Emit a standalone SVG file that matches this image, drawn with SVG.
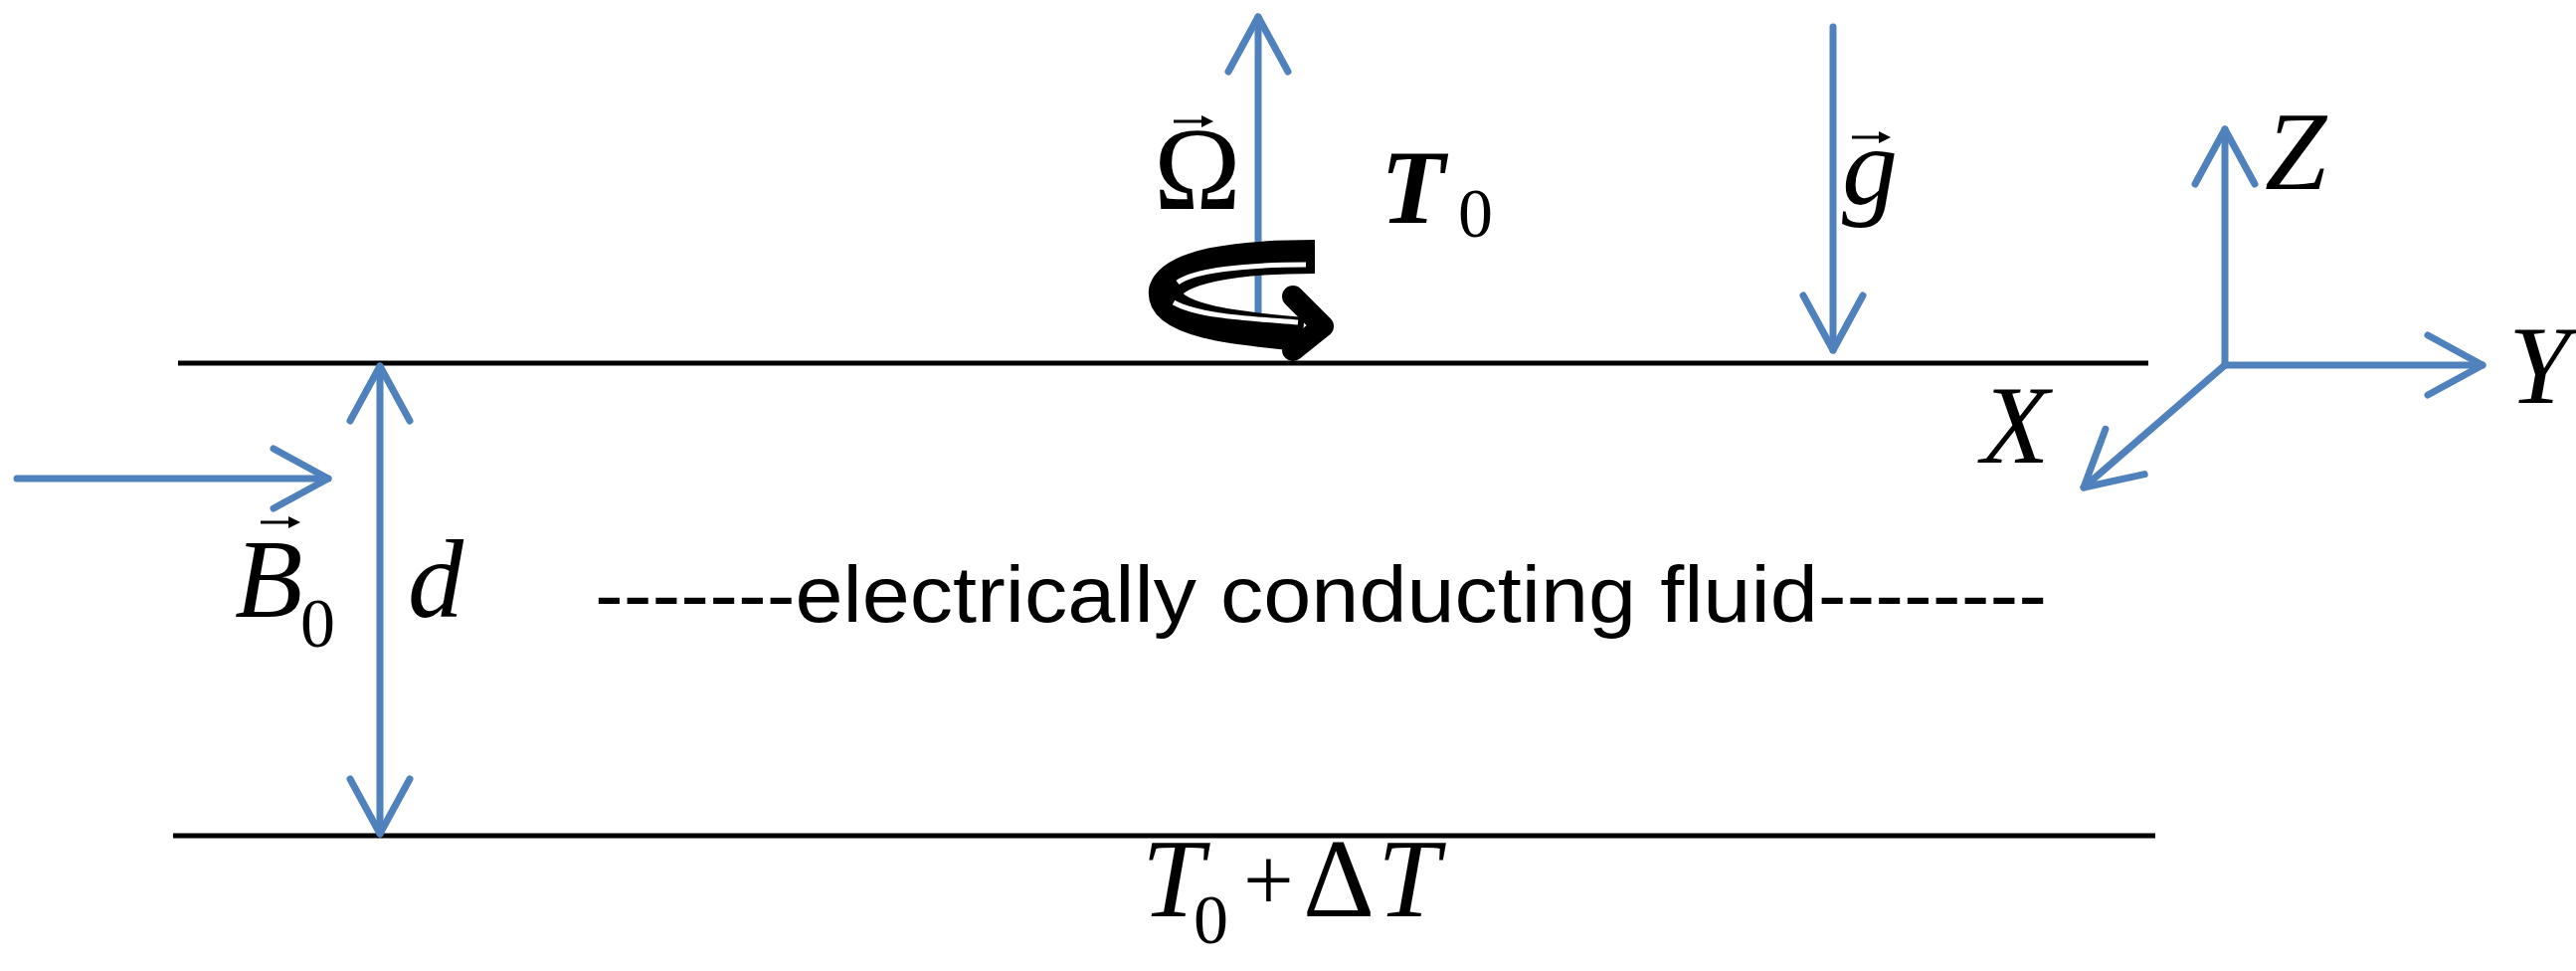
<svg xmlns="http://www.w3.org/2000/svg" width="2590" height="976" viewBox="0 0 2590 976">
<style>
.b{stroke:#4F81BD;stroke-width:7;fill:none;stroke-linecap:round;stroke-linejoin:round}
.k{stroke:#000;stroke-width:5;fill:none}
.m{font-family:"Liberation Serif",serif;font-style:italic;font-size:112px;fill:#000}
.s{font-family:"Liberation Serif",serif;font-size:70px;fill:#000}
.v{stroke:#000;stroke-width:3;fill:none}
</style>
<defs>
<marker id="ah" viewBox="-70 -40 80 80" markerWidth="80" markerHeight="80" refX="0" refY="0" orient="auto-start-reverse" markerUnits="userSpaceOnUse">
<path d="M-55,-30 L0,0 L-55,30" stroke="#4F81BD" stroke-width="7" fill="none" stroke-linecap="round" stroke-linejoin="round"/>
</marker>
</defs>
<g id="plates">
<line class="k" x1="179" y1="365" x2="2160" y2="365"/>
<line class="k" x1="174" y1="840" x2="2167" y2="840"/>
</g>
<g id="connectors">
<line class="b" x1="17" y1="481" x2="330" y2="481" marker-end="url(#ah)"/>
<line class="b" x1="382" y1="368" x2="382" y2="838" marker-start="url(#ah)" marker-end="url(#ah)"/>
<line class="b" x1="1265" y1="345" x2="1265" y2="17" marker-end="url(#ah)"/>
<line class="b" x1="1843" y1="27" x2="1843" y2="352" marker-end="url(#ah)"/>
<line class="b" x1="2237" y1="367" x2="2237" y2="130" marker-end="url(#ah)"/>
<line class="b" x1="2237" y1="367" x2="2496" y2="367" marker-end="url(#ah)"/>
<line class="b" x1="2237" y1="367" x2="2095" y2="490" marker-end="url(#ah)"/>
</g>
<g id="rotation">
<path d="M1322,258 C1240,258 1180,268 1172,292 C1168,322 1240,330 1310,336" stroke="#000" stroke-width="34" fill="none" stroke-linejoin="round"/>
<path d="M1313,266 C1250,266 1200,272 1184,284" stroke="#fff" stroke-width="5" fill="none"/>
<path d="M1180,304 C1205,318 1255,320 1305,324" stroke="#fff" stroke-width="5" fill="none"/>
<path d="M1300,298 L1330,328 L1300,352" stroke="#000" stroke-width="22" fill="none" stroke-linecap="round" stroke-linejoin="round"/>
</g>
<g id="label-omega">
<text class="m" x="1160" y="210" style="font-style:normal;font-size:118px">Ω</text>
<line class="v" x1="1180" y1="122" x2="1215" y2="122"/><path d="M1208,116 L1220,122 L1208,128Z"/>
</g>
<g id="label-T0-top">
<text class="m" x="1388" y="224" style="font-weight:bold;font-size:106px">T</text>
<text class="s" x="1466" y="238">0</text>
</g>
<g id="label-g">
<text class="m" x="1852" y="205">g</text>
<line class="v" x1="1862" y1="138" x2="1895" y2="138"/><path d="M1889,132 L1901,138 L1889,144Z"/>
</g>
<g id="axes-labels">
<text class="m" x="2277" y="190">Z</text>
<text class="m" x="2522" y="405">Y</text>
<text class="m" x="1992" y="465">X</text>
</g>
<g id="label-B0">
<text class="m" x="236" y="620">B</text>
<text class="s" x="302" y="650">0</text>
<line class="v" x1="262" y1="525" x2="296" y2="525"/><path d="M290,519 L302,525 L290,531Z"/>
</g>
<g id="label-d"><text class="m" x="410" y="620">d</text></g>
<g id="label-fluid">
<text x="598" y="625" font-family="Liberation Sans Narrow, Liberation Sans, sans-serif" font-size="80" textLength="1460" lengthAdjust="spacingAndGlyphs">-------electrically conducting fluid--------</text>
</g>
<g id="label-T0-bottom">
<text class="m" x="1148" y="921">T</text>
<text class="s" x="1200" y="948">0</text>
<text class="s" x="1250" y="915" style="font-size:90px">+</text>
<text class="m" x="1310" y="921" style="font-style:normal">Δ</text>
<text class="m" x="1385" y="921">T</text>
</g>
</svg>
